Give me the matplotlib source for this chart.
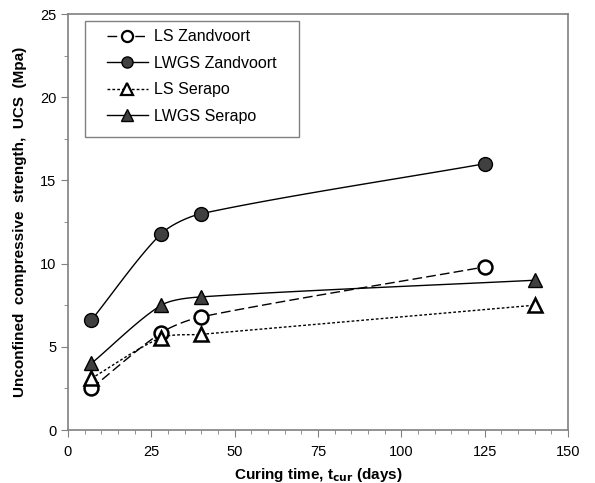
import numpy as np
import matplotlib.pyplot as plt
from matplotlib.lines import Line2D
from matplotlib.patches import Rectangle

plt.rcParams['font.family'] = ['Liberation Sans', 'DejaVu Sans']

# datos
dias_zand = [7, 28, 40, 125]
dias_serapo = [7, 28, 40, 140]
ls_zandvoort = [2.5, 5.85, 6.8, 9.8]
lwgs_zandvoort = [6.6, 11.8, 13.0, 16.0]
ls_serapo = [3.1, 5.55, 5.75, 7.5]
lwgs_serapo = [4.0, 7.5, 8.0, 9.0]

series = [
    ('LS Zandvoort', dias_zand, ls_zandvoort, 'o', 'white', (0, (7, 3))),
    ('LWGS Zandvoort', dias_zand, lwgs_zandvoort, 'o', '#404040', '-'),
    ('LS Serapo', dias_serapo, ls_serapo, '^', 'white', (0, (2, 1.5))),
    ('LWGS Serapo', dias_serapo, lwgs_serapo, '^', '#404040', '-'),
]


def curva_suave(x, y, sx, sy, n=40):
    # linea suavizada tipo Excel: bezier con tangente de los vecinos, en escala de pantalla
    p = np.column_stack([np.array(x, float) * sx, np.array(y, float) * sy])
    m = len(p)
    tang = []
    for i in range(m):
        d = p[min(i + 1, m - 1)] - p[max(i - 1, 0)]
        tang.append(d / np.linalg.norm(d))
    xs, ys = [], []
    for i in range(m - 1):
        largo = np.linalg.norm(p[i + 1] - p[i])
        c1 = p[i] + tang[i] * largo * 0.28
        c2 = p[i + 1] - tang[i + 1] * largo * 0.28
        t = np.linspace(0, 1, n)[:, None]
        b = (1 - t) ** 3 * p[i] + 3 * (1 - t) ** 2 * t * c1 + 3 * (1 - t) * t ** 2 * c2 + t ** 3 * p[i + 1]
        xs.extend(b[:, 0])
        ys.extend(b[:, 1])
    return np.array(xs) / sx, np.array(ys) / sy


fig = plt.figure(figsize=(5.95, 4.83), dpi=100)
ax = fig.add_axes([68 / 595, 1 - 430 / 483, 500 / 595, 416 / 483])
sx = 500 / 150
sy = 416 / 25

handles = []
for nombre, x, y, marca, relleno, estilo in series:
    cx, cy = curva_suave(x, y, sx, sy)
    ax.plot(cx, cy, color='black', lw=1, linestyle=estilo, zorder=2)
    ax.plot(x, y, linestyle='none', marker=marca, markersize=10 if marca == 'o' else 10.5,
            markerfacecolor=relleno, markeredgecolor='black', markeredgewidth=1.8 if relleno == 'white' else 1,
            zorder=3)
    handles.append(Line2D([0], [0], color='black', lw=1, linestyle=estilo, marker=marca,
                          markersize=8, markerfacecolor=relleno, markeredgecolor='black',
                          markeredgewidth=1.6 if relleno == 'white' else 1, label=nombre))

ax.set_xlim(0, 150)
ax.set_ylim(0, 25)
ax.set_xticks(np.arange(0, 151, 25))
ax.set_xticks(np.arange(0, 151, 5), minor=True)
ax.set_yticks(np.arange(0, 26, 5))
ax.set_yticks(np.arange(0, 26, 2.5), minor=True)
for lado in ax.spines.values():
    lado.set_color('#808080')
    lado.set_linewidth(1.2)
ax.tick_params(which='both', direction='out', color='#808080', labelsize=10.5)
ax.tick_params(which='major', length=5)
ax.tick_params(which='minor', length=3)
ax.tick_params(axis='x', pad=6)

ax.set_xlabel(r'Curing time, t$_{\mathbf{cur}}$ (days)', fontsize=11, fontweight='bold', labelpad=5)
ax.set_ylabel('Unconfined  compressive  strength,  UCS  (Mpa)', fontsize=11, fontweight='bold', labelpad=9)

# marco de la leyenda
ax.add_patch(Rectangle((0.034, 0.704), 0.428, 0.279, transform=ax.transAxes, facecolor='white',
                       edgecolor='#808080', lw=1, zorder=4))
leg = ax.legend(handles=handles, loc='upper left', bbox_to_anchor=(0.078, 0.963), borderaxespad=0,
                frameon=False, fontsize=11.5, handlelength=2.56, borderpad=0,
                labelspacing=0.72, handletextpad=0.4)
leg.set_zorder(5)

fig.savefig('out.png', dpi=100)
